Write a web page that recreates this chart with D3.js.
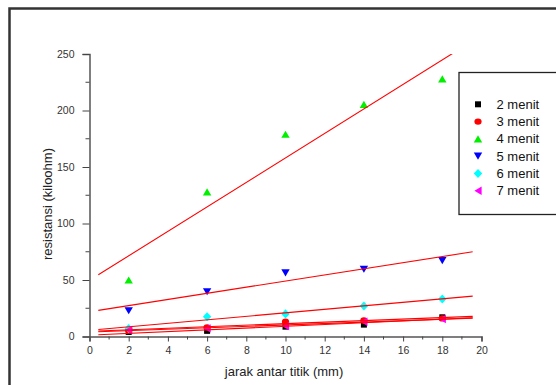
<!DOCTYPE html>
<html>
<head>
<meta charset="utf-8">
<script src="https://cdn.jsdelivr.net/npm/d3@7/dist/d3.min.js"></script>
<style>
  html, body { margin: 0; padding: 0; background: #fff; }
  svg { display: block; font-family: "Liberation Sans", Arial, sans-serif; }
</style>
</head>
<body>
<svg id="chart" width="556" height="385"></svg>
<script>
// Measurement points (mm) and resistance readings (kiloohm) per drying time
const jarak = [2, 6, 10, 14, 18];
const menit2 = [4, 5, 8.7, 10.5, 17];
const menit3 = [5.5, 8.1, 13.1, 14.2, 16];
const menit4 = [50, 128, 179, 205.5, 228];
const menit5 = [22.8, 39.6, 56.3, 59.5, 67.1];
const menit6 = [7, 17.5, 20, 27, 33.2];
const menit7 = [5.8, 7.2, 9.3, 13.1, 15.5];

const seriesNames = ["2 menit", "3 menit", "4 menit", "5 menit", "6 menit", "7 menit"];
const seriesValues = [menit2, menit3, menit4, menit5, menit6, menit7];
const seriesColors = ["#000000", "#ff0000", "#00f000", "#0000ff", "#00ffff", "#ff00ff"];
const seriesShapes = ["square", "circle", "up", "down", "diamond", "left"];

const xTicks = [0, 2, 4, 6, 8, 10, 12, 14, 16, 18, 20];
const yTicks = [0, 50, 100, 150, 200, 250];
const fitRange = [0.45, 19.55];

const svg = d3.select("#chart");

// Outer frame
svg.append("rect")
  .attr("x", 9.5).attr("y", 8.5)
  .attr("width", 600).attr("height", 420)
  .attr("fill", "none").attr("stroke", "#333").attr("stroke-width", 2.5);

const x = d3.scaleLinear().domain([0, 20]).range([89.5, 481.5]);
const y = d3.scaleLinear().domain([0, 250]).range([336.5, 54]);

// Clip region for the fitted lines
svg.append("defs").append("clipPath").attr("id", "plotClip")
  .append("rect")
  .attr("x", x(0)).attr("y", y(250))
  .attr("width", x(20) - x(0)).attr("height", y(0) - y(250));

// Axes
const xAxis = svg.append("g").attr("transform", `translate(0,${y(0)})`)
  .call(d3.axisBottom(x).tickValues(xTicks).tickSize(5).tickPadding(5).tickFormat(d3.format("d")));
const yAxis = svg.append("g").attr("transform", `translate(${x(0)},0)`)
  .call(d3.axisLeft(y).tickValues(yTicks).tickSize(7).tickPadding(8).tickFormat(d3.format("d")));

// Minor ticks
svg.append("g").selectAll("line")
  .data(d3.range(1, 20, 2)).join("line")
  .attr("x1", d => x(d)).attr("x2", d => x(d))
  .attr("y1", y(0)).attr("y2", y(0) + 3)
  .attr("stroke", "#444").attr("stroke-width", 1);
svg.append("g").selectAll("line")
  .data(d3.range(25, 250, 50)).join("line")
  .attr("x1", x(0) - 4).attr("x2", x(0))
  .attr("y1", d => y(d)).attr("y2", d => y(d))
  .attr("stroke", "#444").attr("stroke-width", 1);

[xAxis, yAxis].forEach(g => {
  g.select(".domain").attr("stroke", "#555").attr("stroke-width", 1.5);
  g.selectAll(".tick line").attr("stroke", "#444").attr("stroke-width", 1);
  g.selectAll(".tick text")
    .attr("fill", "#333")
    .style("font-size", "10.5px")
    .style("font-family", "'Liberation Sans', Arial, sans-serif");
});

// Axis titles
svg.append("text")
  .attr("x", 284).attr("y", 376)
  .attr("text-anchor", "middle")
  .style("font-size", "13px").attr("fill", "#222")
  .text("jarak antar titik (mm)");
svg.append("text")
  .attr("transform", "translate(52,204) rotate(-90)")
  .attr("text-anchor", "middle")
  .style("font-size", "13px").attr("fill", "#222")
  .text("resistansi (kiloohm)");

// Marker shapes centred on the point
function shapePath(s) {
  switch (s) {
    case "square": return "M-3,-3h6v6h-6Z";
    case "circle": return "M-3.6,0a3.6,3.2 0 1,0 7.2,0a3.6,3.2 0 1,0 -7.2,0Z";
    case "up": return "M0,-3.6L4.2,3.6L-4.2,3.6Z";
    case "down": return "M-4.2,-3.6L4.2,-3.6L0,3.6Z";
    case "diamond": return "M0,-4.6L4.2,0L0,4.6L-4.2,0Z";
    case "left": return "M-3.6,0L3.6,-4.2L3.6,4.2Z";
  }
}

// Least-squares linear fit
function linFit(xs, ys) {
  const mx = d3.mean(xs), my = d3.mean(ys);
  let sxy = 0, sxx = 0;
  xs.forEach((xv, i) => { sxy += (xv - mx) * (ys[i] - my); sxx += (xv - mx) ** 2; });
  const b = sxy / sxx;
  return { a: my - b * mx, b };
}

const line = d3.line().x(d => x(d[0])).y(d => y(d[1]));

// Markers
seriesValues.forEach((vals, si) => {
  svg.append("g").selectAll("path")
    .data(vals).join("path")
    .attr("transform", (v, i) => `translate(${x(jarak[i])},${y(v)})`)
    .attr("d", shapePath(seriesShapes[si]))
    .attr("fill", seriesColors[si]);
});

// Fitted lines
const fitG = svg.append("g").attr("clip-path", "url(#plotClip)");
seriesValues.forEach(vals => {
  const f = linFit(jarak, vals);
  fitG.append("path")
    .datum(fitRange.map(xv => [xv, f.a + f.b * xv]))
    .attr("d", line)
    .attr("fill", "none").attr("stroke", "#ff0000").attr("stroke-width", 1.1);
});

// Legend
const lg = svg.append("g");
lg.append("rect")
  .attr("x", 459).attr("y", 72.5).attr("width", 120).attr("height", 142)
  .attr("fill", "#fff").attr("stroke", "#222").attr("stroke-width", 1.3);
seriesNames.forEach((name, i) => {
  const yy = 104.3 + i * 17.3;
  lg.append("path")
    .attr("transform", `translate(478,${yy})`)
    .attr("d", shapePath(seriesShapes[i]))
    .attr("fill", seriesColors[i]);
  lg.append("text")
    .attr("x", 496.5).attr("y", yy + 4.5)
    .style("font-size", "13px").attr("fill", "#111")
    .text(name);
});
</script>
</body>
</html>
